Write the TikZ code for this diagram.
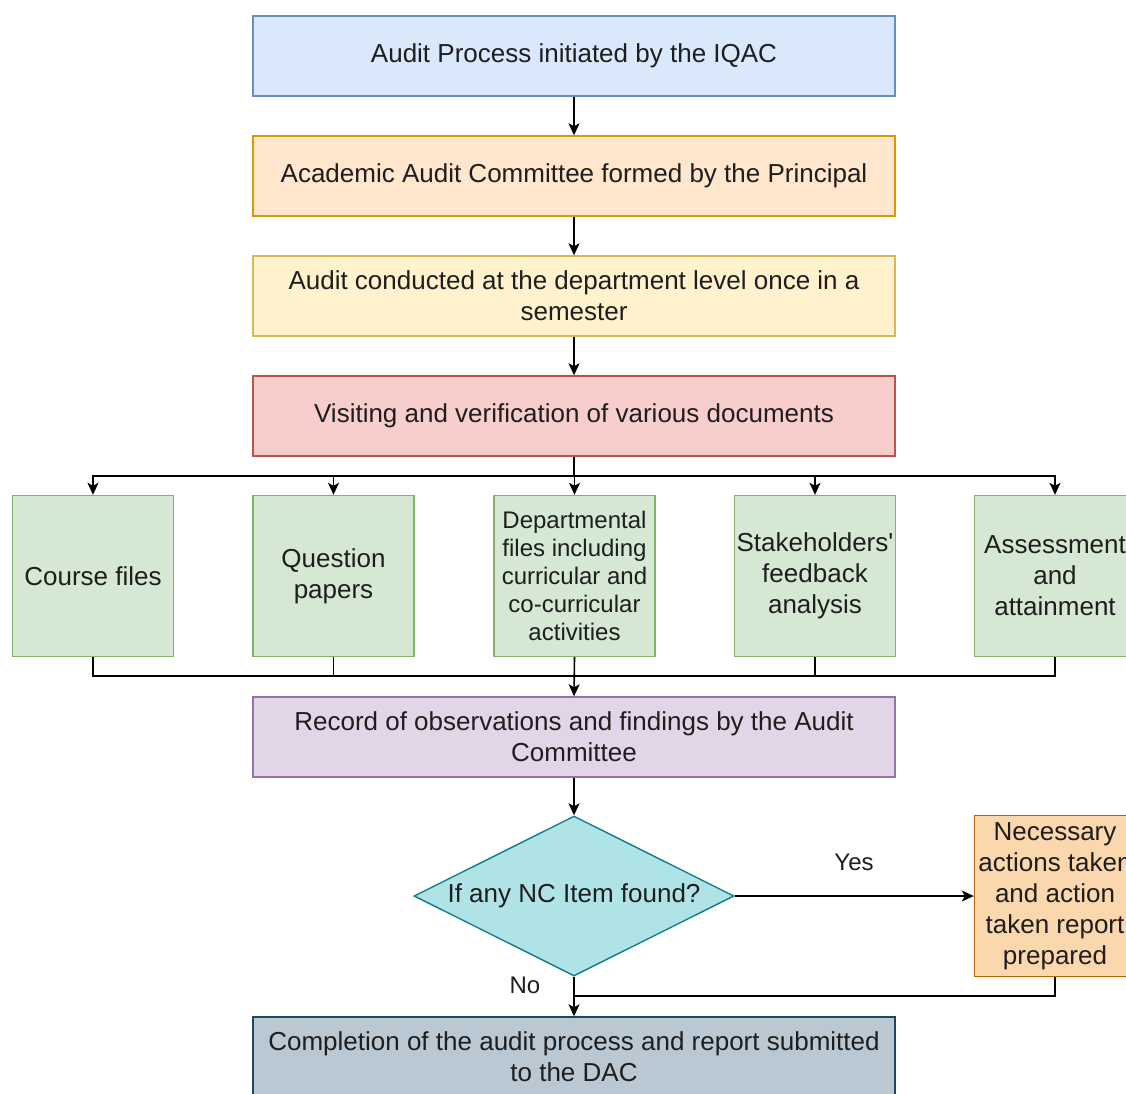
\documentclass[tikz,border=0pt]{standalone}
\usepackage{fontspec}
\setmainfont{Liberation Sans}
\usetikzlibrary{shapes.geometric,arrows.meta}
\definecolor{blueF}{HTML}{DAE8FC}\definecolor{blueD}{HTML}{6C8EBF}
\definecolor{orgF}{HTML}{FFE6CC}\definecolor{orgD}{HTML}{D79B00}
\definecolor{yelF}{HTML}{FFF2CC}\definecolor{yelD}{HTML}{D6B656}
\definecolor{redF}{HTML}{F8CECC}\definecolor{redD}{HTML}{B85450}
\definecolor{grnF}{HTML}{D5E8D4}\definecolor{grnD}{HTML}{82B366}
\definecolor{purF}{HTML}{E1D5E7}\definecolor{purD}{HTML}{9673A6}
\definecolor{cyaF}{HTML}{B0E3E6}\definecolor{cyaD}{HTML}{0E8088}
\definecolor{dorF}{HTML}{FAD7AC}\definecolor{dorD}{HTML}{B46504}
\definecolor{gryF}{HTML}{BAC8D3}\definecolor{gryD}{HTML}{23445D}
\definecolor{txt}{HTML}{1E1E1E}
\begin{document}
\begin{tikzpicture}[x=1pt,y=-1pt,
  font=\fontsize{26}{31}\selectfont, text=txt,
  wide/.style={draw, line width=1.4pt, minimum width=642pt, minimum height=80pt, align=center, inner sep=2pt},
  sq/.style={draw=grnD, fill=grnF, line width=1.4pt, minimum width=161pt, minimum height=161pt, align=center, inner sep=1pt},
  conn/.style={line width=1.6pt, draw=black},
  arr/.style={conn, -{Stealth[length=12pt,width=11pt,inset=3pt]}},
  lbl/.style={inner sep=0pt, font=\fontsize{24}{28}\selectfont}]
\useasboundingbox (0,0) rectangle (1126,1093);
\clip (0,0) rectangle (1126,1093);
\fill[white] (0,0) rectangle (1126,1093);

\node[wide, draw=blueD, fill=blueF] (b1) at (574,56) {Audit Process initiated by the IQAC};
\node[wide, draw=orgD, fill=orgF] (b2) at (574,176) {Academic Audit Committee formed by the Principal};
\node[wide, draw=yelD, fill=yelF] (b3) at (574,296) {Audit conducted at the department level once in a\\semester};
\node[wide, draw=redD, fill=redF] (b4) at (574,416) {Visiting and verification of various documents};

\node[sq] (g1) at (93,576) {Course files};
\node[sq] (g2) at (333.5,576) {Question\\papers};
\node[sq, font=\fontsize{24}{28.2}\selectfont] (g3) at (574.5,576) {Departmental\\files including\\curricular and\\co-curricular\\activities};
\node[sq] (g4) at (815,576) {Stakeholders\textquotesingle\\feedback\\analysis};
\node[sq] (g5) at (1055,576) {Assessment\\and\\attainment};

\node[wide, draw=purD, fill=purF] (rec) at (574,737) {Record of observations and findings by the Audit\\Committee};

\node[diamond, aspect=2, draw=cyaD, fill=cyaF, line width=1.4pt, minimum width=320pt, minimum height=160pt, inner sep=0pt] (dia) at (574,896) {If any NC Item found?};

\node[draw=dorD, fill=dorF, line width=1.4pt, minimum width=161pt, minimum height=161pt, align=center, inner sep=1pt] (nc) at (1055,896) {Necessary\\actions taken\\and action\\taken report\\prepared};

\node[wide, draw=gryD, fill=gryF] (fin) at (574,1057) {Completion of the audit process and report submitted\\to the DAC};

\node[lbl] (yes) at (854,862) {Yes};
\node[lbl] (no) at (525,985) {No};

% connectors
\draw[arr] (b1.south) -- (b2.north);
\draw[arr] (b2.south) -- (b3.north);
\draw[arr] (b3.south) -- (b4.north);
\coordinate (split) at (574,476);
\draw[conn] (b4.south) -- (split);
\foreach \g in {g1,g2,g3,g4,g5} \draw[arr] (split) -| (\g.north);
\coordinate (merge) at (574,676);
\foreach \g in {g1,g2,g4,g5} \draw[conn] (\g.south) |- (merge);
\draw[arr] (g3.south) -- (rec.north);
\draw[arr] (rec.south) -- (dia.north);
\draw[arr] (dia.east) -- (nc.west);
\coordinate (join) at (574,996);
\draw[conn] (nc.south) |- (join);
\draw[arr] (dia.south) -- (fin.north);
\end{tikzpicture}
\end{document}
